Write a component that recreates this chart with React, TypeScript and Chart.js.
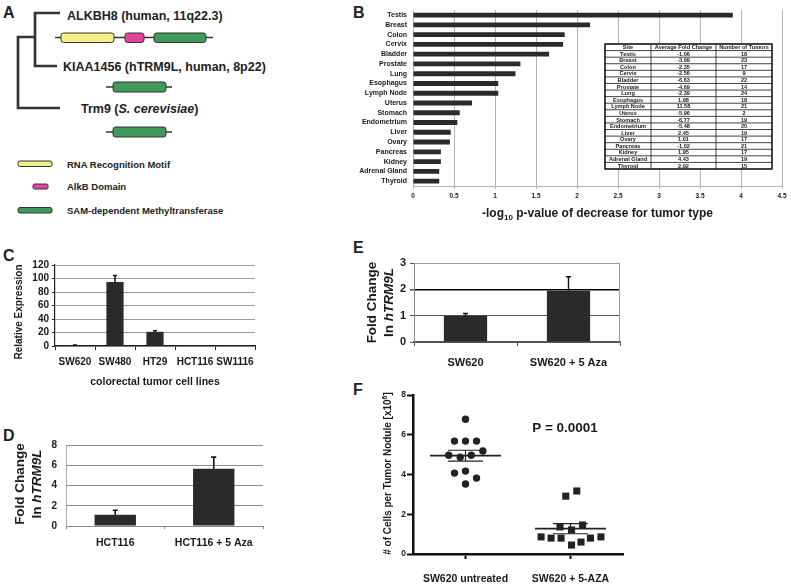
import React, { useEffect, useRef } from "react";
import { Chart, registerables } from "chart.js";

Chart.register(...registerables);

const FF = '"Liberation Sans", Arial, Helvetica, sans-serif';
const INK = "#1a1a1a";
const BAR = "#2a2a2a";

// ---------- Panel A ----------
const proteinNames = ["ALKBH8 (human, 11q22.3)", "KIAA1456 (hTRM9L, human, 8p22)"];
const legendItems = ["RNA Recognition Motif", "AlkB Domain", "SAM-dependent Methyltransferase"];
const domainColors = ["#f6ee86", "#e6449b", "#3f9a5b"];

// ---------- Panel B ----------
const tumorSites = ["Testis", "Breast", "Colon", "Cervix", "Bladder", "Prostate", "Lung", "Esophagus", "Lymph Node", "Uterus", "Stomach", "Endometrium", "Liver", "Ovary", "Pancreas", "Kidney", "Adrenal Gland", "Thyroid"];
const negLog10P = [3.9, 2.16, 1.85, 1.83, 1.66, 1.31, 1.25, 1.04, 1.04, 0.72, 0.57, 0.54, 0.46, 0.45, 0.34, 0.34, 0.32, 0.32];
const tableHeader = ["Site", "Average Fold Change", "Number of Tumors"];
const avgFoldChange = ["-1.06", "-3.99", "-2.35", "-2.56", "-6.63", "-4.69", "-2.39", "1.98", "11.58", "-5.96", "-6.77", "-5.48", "2.45", "1.01", "-1.02", "1.95", "4.43", "2.92"];
const numTumors = ["18", "23", "17", "9", "22", "14", "24", "18", "21", "2", "19", "20", "19", "17", "21", "17", "19", "15"];
const bMin = 0, bMax = 4.5, bStep = 0.5;

// ---------- Panel C ----------
const cCellLines = ["SW620", "SW480", "HT29", "HCT116", "SW1116"];
const cRelExpr = [1.2, 95, 21, 0.1, 0.1];
const cRelExprErr = [0.4, 9.5, 1.5, 0, 0];
const cMax = 120, cStep = 20;

// ---------- Panel D ----------
const dGroups = ["HCT116", "HCT116 + 5 Aza"];
const dFold = [1.1, 5.65];
const dFoldErr = [0.45, 1.15];
const dMax = 8, dStep = 2;

// ---------- Panel E ----------
const eGroups = ["SW620", "SW620 + 5 Aza"];
const eFold = [1.0, 1.95];
const eFoldErr = [0.08, 0.53];
const eMax = 3, eStep = 1;

// ---------- Panel F ----------
const fGroups = ["SW620 untreated", "SW620 + 5-AZA"];
const fGroupX = [1, 3];
const fUntreatedX = [1.0, 0.79, 1.0, 1.21, 1.33, 0.68, 0.9, 1.11, 0.79, 1.0, 1.21, 1.0];
const fUntreatedY = [6.78, 5.68, 5.68, 5.68, 5.18, 4.97, 4.87, 4.97, 4.07, 4.17, 3.82, 3.52];
const fAzaX = [2.91, 3.12, 2.8, 3.02, 3.23, 2.44, 2.63, 2.82, 3.02, 3.2, 3.38, 3.58];
const fAzaY = [2.91, 3.17, 1.36, 1.21, 1.46, 0.86, 0.8, 0.8, 0.45, 0.6, 0.8, 0.86];
const fPValue = "P = 0.0001";
const fMax = 8, fStep = 2;

// ---------- helpers ----------
type Run = { t: string; size: number; italic?: boolean; dy?: number };

function drawRuns(ctx: CanvasRenderingContext2D, runs: Run[], x: number, y: number, align: "left" | "center", rot = 0) {
  ctx.save();
  ctx.translate(x, y);
  if (rot) ctx.rotate(rot);
  ctx.fillStyle = INK;
  ctx.textBaseline = "alphabetic";
  ctx.textAlign = "left";
  const fnt = (r: Run) => `${r.italic ? "italic " : ""}bold ${r.size}px ${FF}`;
  let total = 0;
  for (const r of runs) {
    ctx.font = fnt(r);
    total += ctx.measureText(r.t).width;
  }
  let cx = align === "center" ? -total / 2 : 0;
  for (const r of runs) {
    ctx.font = fnt(r);
    ctx.fillText(r.t, cx, r.dy || 0);
    cx += ctx.measureText(r.t).width;
  }
  ctx.restore();
}

const f = (size: number) => ({ family: FF, size, weight: "bold" as const });
const plainNum = (v: any) => `${Number(v)}`;

function errorBars(errs: number[], capW: number, lw: number) {
  return {
    id: "errBars",
    afterDatasetsDraw(chart: any) {
      const meta = chart.getDatasetMeta(0);
      const ys = chart.scales.y;
      const ctx = chart.ctx as CanvasRenderingContext2D;
      const vals = chart.data.datasets[0].data as number[];
      ctx.save();
      ctx.strokeStyle = "#111";
      ctx.lineWidth = lw;
      meta.data.forEach((bar: any, i: number) => {
        const e = errs[i];
        if (!e) return;
        const yb = ys.getPixelForValue(vals[i]);
        const yt = ys.getPixelForValue(vals[i] + e);
        ctx.beginPath();
        ctx.moveTo(bar.x, yb);
        ctx.lineTo(bar.x, yt);
        ctx.moveTo(bar.x - capW / 2, yt);
        ctx.lineTo(bar.x + capW / 2, yt);
        ctx.stroke();
      });
      ctx.restore();
    },
  };
}

const mean = (a: number[]) => a.reduce((s, v) => s + v, 0) / a.length;
const sem = (a: number[]) => {
  const m = mean(a);
  return Math.sqrt(a.reduce((s, v) => s + (v - m) ** 2, 0) / (a.length - 1)) / Math.sqrt(a.length);
};

const baseOpts = {
  responsive: false,
  animation: false as const,
  plugins: { legend: { display: false }, tooltip: { enabled: false } },
};

// ---------- configs ----------
function configB(): any {
  return {
    type: "bar",
    data: {
      labels: tumorSites,
      datasets: [{ data: negLog10P, backgroundColor: BAR, barPercentage: 0.5, categoryPercentage: 1 }],
    },
    options: {
      ...baseOpts,
      indexAxis: "y",
      layout: { padding: { top: 10, right: 9, left: 0, bottom: 0 } },
      scales: {
        x: {
          type: "linear",
          min: bMin,
          max: bMax,
          ticks: { stepSize: bStep, font: f(6.5), color: INK, padding: 3, maxRotation: 0, autoSkip: false, callback: plainNum },
          grid: { color: "#b4b4b4", lineWidth: 1, tickLength: 3, drawTicks: true },
          border: { color: "#b4b4b4" },
          afterFit: (s: any) => { s.height = 44; },
        },
        y: {
          ticks: { font: f(7), color: INK, padding: 6, autoSkip: false },
          grid: { display: false, drawTicks: false },
          border: { display: false },
          afterFit: (s: any) => { s.width = 83; },
        },
      },
    },
    plugins: [
      {
        id: "bDeco",
        afterDraw(chart: any) {
          const ctx = chart.ctx as CanvasRenderingContext2D;
          const ca = chart.chartArea;
          drawRuns(ctx, [
            { t: "-log", size: 12 },
            { t: "10", size: 8, dy: 3 },
            { t: " p-value of decrease for tumor type", size: 12 },
          ], (ca.left + ca.right) / 2, ca.bottom + 31, "center");
          // table
          const cols = [275, 321, 386, 442];
          const top = 44;
          const rowH = (169 - 44) / (tumorSites.length + 1);
          const bottom = top + rowH * (tumorSites.length + 1);
          ctx.save();
          ctx.fillStyle = "#fff";
          ctx.fillRect(cols[0], top, cols[3] - cols[0], bottom - top);
          ctx.strokeStyle = "#111";
          ctx.lineWidth = 0.8;
          ctx.beginPath();
          for (let r = 0; r <= tumorSites.length + 1; r++) {
            const y = top + r * rowH;
            ctx.moveTo(cols[0], y);
            ctx.lineTo(cols[3], y);
          }
          for (const c of cols) {
            ctx.moveTo(c, top);
            ctx.lineTo(c, bottom);
          }
          ctx.stroke();
          ctx.lineWidth = 1.3;
          ctx.strokeRect(cols[0], top, cols[3] - cols[0], bottom - top);
          ctx.fillStyle = INK;
          ctx.textAlign = "center";
          ctx.textBaseline = "middle";
          ctx.font = `bold 5.6px ${FF}`;
          const rows = [tableHeader, ...tumorSites.map((s, i) => [s, avgFoldChange[i], numTumors[i]])];
          rows.forEach((row, r) => {
            const y = top + (r + 0.5) * rowH + 0.3;
            row.forEach((txt, c) => {
              ctx.fillText(txt, (cols[c] + cols[c + 1]) / 2, y);
            });
          });
          ctx.restore();
        },
      },
    ],
  };
}

function configC(): any {
  return {
    type: "bar",
    data: {
      labels: cCellLines,
      datasets: [{ data: cRelExpr, backgroundColor: BAR, barPercentage: 0.43, categoryPercentage: 1 }],
    },
    options: {
      ...baseOpts,
      layout: { padding: { top: 15, right: 10, left: 0, bottom: 0 } },
      scales: {
        x: {
          ticks: { font: f(10), color: INK, padding: 6, autoSkip: false, maxRotation: 0 },
          grid: { display: true, drawOnChartArea: false, tickLength: 4, tickColor: "#222", offset: true },
          border: { color: "#222", width: 1.2 },
          afterFit: (s: any) => { s.height = 44; },
        },
        y: {
          min: 0,
          max: cMax,
          ticks: { stepSize: cStep, font: f(10), color: INK, padding: 3, autoSkip: false, callback: plainNum },
          grid: { color: "#9a9a9a", tickLength: 3, tickColor: "#222" },
          border: { color: "#222", width: 1.2 },
          afterFit: (s: any) => { s.width = 55; },
        },
      },
    },
    plugins: [
      errorBars(cRelExprErr, 4, 1.5),
      {
        id: "cDeco",
        afterDraw(chart: any) {
          const ctx = chart.ctx as CanvasRenderingContext2D;
          const ca = chart.chartArea;
          drawRuns(ctx, [{ t: "Relative Expression", size: 10 }], 22, 62, "center", -Math.PI / 2);
          drawRuns(ctx, [{ t: "colorectal tumor cell lines", size: 10.5 }], (ca.left + ca.right) / 2, 134.7, "center");
        },
      },
    ],
  };
}

function foldTitle(ctx: CanvasRenderingContext2D, x1: number, x2: number, cy: number) {
  drawRuns(ctx, [{ t: "Fold Change", size: 13.5 }], x1, cy, "center", -Math.PI / 2);
  drawRuns(ctx, [{ t: "In ", size: 13.5 }, { t: "hTRM9L", size: 13.5, italic: true }], x2, cy, "center", -Math.PI / 2);
}

function configD(): any {
  return {
    type: "bar",
    data: {
      labels: dGroups,
      datasets: [{ data: dFold, backgroundColor: BAR, barPercentage: 0.42, categoryPercentage: 1 }],
    },
    options: {
      ...baseOpts,
      layout: { padding: { top: 12, right: 10, left: 0, bottom: 0 } },
      scales: {
        x: {
          ticks: { font: f(10.5), color: INK, padding: 8, autoSkip: false, maxRotation: 0 },
          grid: { display: true, drawOnChartArea: false, tickLength: 3, tickColor: "#888", offset: true },
          border: { color: "#888", width: 1 },
          afterFit: (s: any) => { s.height = 59; },
        },
        y: {
          min: 0,
          max: dMax,
          ticks: { stepSize: dStep, font: f(10), color: INK, padding: 9, autoSkip: false, callback: plainNum },
          grid: { color: "#8c8c8c", drawTicks: false },
          border: { color: "#aaa", width: 1 },
          afterFit: (s: any) => { s.width = 66; },
        },
      },
    },
    plugins: [
      errorBars(dFoldErr, 5, 1.6),
      {
        id: "dDeco",
        afterDraw(chart: any) {
          foldTitle(chart.ctx, 24, 41, 54);
        },
      },
    ],
  };
}

function configE(): any {
  return {
    type: "bar",
    data: {
      labels: eGroups,
      datasets: [{ data: eFold, backgroundColor: BAR, barPercentage: 0.42, categoryPercentage: 1 }],
    },
    options: {
      ...baseOpts,
      layout: { padding: { top: 23, right: 10, left: 0, bottom: 0 } },
      scales: {
        x: {
          ticks: { font: f(11), color: INK, padding: 10, autoSkip: false, maxRotation: 0 },
          grid: { display: true, drawOnChartArea: false, tickLength: 4, tickColor: "#555", offset: true },
          border: { color: "#555", width: 1.2 },
          afterFit: (s: any) => { s.height = 38; },
        },
        y: {
          min: 0,
          max: eMax,
          ticks: { stepSize: eStep, font: f(11), color: INK, padding: 4, autoSkip: false, callback: plainNum },
          grid: {
            color: (c: any) => (c.tick && c.tick.value === 2 ? "#000" : c.tick && c.tick.value === eMax ? "#999" : "#555"),
            lineWidth: (c: any) => (c.tick && c.tick.value === 2 ? 1.6 : 1),
            tickLength: 4,
            tickColor: "#555",
          },
          border: { color: "#888", width: 1 },
          afterFit: (s: any) => { s.width = 84; },
        },
      },
    },
    plugins: [
      errorBars(eFoldErr, 5, 1.4),
      {
        id: "eDeco",
        afterDraw(chart: any) {
          const ctx = chart.ctx as CanvasRenderingContext2D;
          const ca = chart.chartArea;
          ctx.save();
          ctx.strokeStyle = "#999";
          ctx.lineWidth = 1;
          ctx.beginPath();
          ctx.moveTo(ca.right - 0.5, ca.top);
          ctx.lineTo(ca.right - 0.5, ca.bottom);
          ctx.stroke();
          ctx.restore();
          foldTitle(ctx, 46.3, 63.3, 62.5);
        },
      },
    ],
  };
}

function configF(): any {
  const groups = [
    { x: fUntreatedX, y: fUntreatedY },
    { x: fAzaX, y: fAzaY },
  ];
  const lineDs = (pts: { x: number; y: number }[], w: number) => ({
    type: "line",
    data: pts,
    borderColor: "#222",
    borderWidth: w,
    pointRadius: 0,
    fill: false,
    order: 2,
  });
  const summary: any[] = [];
  groups.forEach((g, i) => {
    const gx = fGroupX[i];
    const m = mean(g.y);
    const s = sem(g.y);
    summary.push(lineDs([{ x: gx - 0.676, y: m }, { x: gx + 0.676, y: m }], 1.8));
    summary.push(lineDs([{ x: gx - 0.333, y: m + s }, { x: gx + 0.333, y: m + s }], 1.2));
    summary.push(lineDs([{ x: gx - 0.333, y: m - s }, { x: gx + 0.333, y: m - s }], 1.2));
    summary.push(lineDs([{ x: gx, y: m - s }, { x: gx, y: m + s }], 1.2));
  });
  return {
    type: "scatter",
    data: {
      datasets: [
        {
          data: fUntreatedX.map((x, i) => ({ x, y: fUntreatedY[i] })),
          pointStyle: "circle",
          radius: 3.7,
          backgroundColor: "#222",
          borderWidth: 0,
          order: 1,
        },
        {
          data: fAzaX.map((x, i) => ({ x, y: fAzaY[i] })),
          pointStyle: "rect",
          radius: 5,
          backgroundColor: "#222",
          borderWidth: 0,
          order: 1,
        },
        ...summary,
      ],
    },
    options: {
      ...baseOpts,
      layout: { padding: { top: 15, right: 7, left: 0, bottom: 0 } },
      scales: {
        x: {
          type: "linear",
          min: 0,
          max: 4,
          afterBuildTicks: (s: any) => { s.ticks = fGroupX.map((v) => ({ value: v })); },
          ticks: { font: f(10.5), color: INK, padding: 14, autoSkip: false, maxRotation: 0, callback: (_v: any, i: number) => fGroups[i] },
          grid: { drawOnChartArea: false, tickLength: 5, tickColor: "#111", tickWidth: 2 },
          border: { color: "#111", width: 2.5 },
          afterFit: (s: any) => { s.height = 31; },
        },
        y: {
          min: 0,
          max: fMax,
          ticks: { stepSize: fStep, font: f(8.5), color: INK, padding: 1, autoSkip: false, callback: plainNum },
          grid: { drawOnChartArea: false, tickLength: 6, tickColor: "#111", tickWidth: 2 },
          border: { color: "#111", width: 2.5 },
          afterFit: (s: any) => { s.width = 83; },
        },
      },
    },
    plugins: [
      {
        id: "fDeco",
        afterDraw(chart: any) {
          const ctx = chart.ctx as CanvasRenderingContext2D;
          drawRuns(ctx, [{ t: fPValue, size: 13.5 }], 235, 52, "center");
          drawRuns(ctx, [
            { t: "# of Cells per Tumor Nodule [x10", size: 10 },
            { t: "6", size: 7, dy: -4 },
            { t: "]", size: 10 },
          ], 61, 93.5, "center", -Math.PI / 2);
        },
      },
    ],
  };
}

// ---------- Panel A (schematic) ----------
function PanelA() {
  const stroke = "#333";
  const txt = { fontFamily: FF, fontWeight: 700, fill: "#222" } as any;
  return (
    <svg width={330} height={230} style={{ position: "absolute", left: 0, top: 0 }}>
      <g fill="none" stroke={stroke} strokeWidth={2.7}>
        <path d="M60,13 H35 V66 H57" />
        <path d="M35,37 H18 V108 H60" />
      </g>
      <text x={67} y={19.5} fontSize={12.5} {...txt}>{proteinNames[0]}</text>
      <text x={63} y={70.5} fontSize={12.5} {...txt}>{proteinNames[1]}</text>
      <text x={81} y={112.5} fontSize={12.5} {...txt}>
        Trm9 (<tspan fontStyle="italic">S. cerevisiae</tspan>)
      </text>
      <g stroke={stroke} strokeWidth={1.5}>
        <line x1={55} y1={37.5} x2={213} y2={37.5} />
        <line x1={106} y1={87} x2={172} y2={87} />
        <line x1={106} y1={132} x2={172} y2={132} />
      </g>
      <g stroke={stroke} strokeWidth={1}>
        <rect x={61} y={33} width={53} height={9.5} rx={2.5} fill={domainColors[0]} />
        <rect x={125} y={33} width={19} height={9.5} rx={2.5} fill={domainColors[1]} />
        <rect x={154} y={33} width={52} height={9.5} rx={2.5} fill={domainColors[2]} />
        <rect x={113} y={82} width={53} height={10} rx={2.5} fill={domainColors[2]} />
        <rect x={113} y={127} width={53} height={10} rx={2.5} fill={domainColors[2]} />
        <rect x={18} y={161} width={34} height={5.5} rx={2} fill={domainColors[0]} />
        <rect x={33} y={184} width={15} height={5} rx={1.5} fill={domainColors[1]} />
        <rect x={18} y={207.5} width={34} height={5.5} rx={2} fill={domainColors[2]} />
      </g>
      <text x={67} y={167.5} fontSize={9.5} {...txt}>{legendItems[0]}</text>
      <text x={67} y={190} fontSize={9.5} {...txt}>{legendItems[1]}</text>
      <text x={67} y={213.5} fontSize={9.5} {...txt}>{legendItems[2]}</text>
    </svg>
  );
}

const panelLetters: [string, number, number][] = [
  ["A", 3, 5],
  ["B", 353, 5],
  ["C", 3, 248],
  ["D", 3, 428],
  ["E", 353, 240],
  ["F", 353, 382],
];

export default function App() {
  const bRef = useRef<HTMLCanvasElement>(null);
  const cRef = useRef<HTMLCanvasElement>(null);
  const dRef = useRef<HTMLCanvasElement>(null);
  const eRef = useRef<HTMLCanvasElement>(null);
  const fRef = useRef<HTMLCanvasElement>(null);

  useEffect(() => {
    const charts: Chart[] = [];
    charts.push(new Chart(bRef.current!, configB()));
    charts.push(new Chart(cRef.current!, configC()));
    charts.push(new Chart(dRef.current!, configD()));
    charts.push(new Chart(eRef.current!, configE()));
    charts.push(new Chart(fRef.current!, configF()));
    return () => charts.forEach((c) => c.destroy());
  }, []);

  const cv = (left: number, top: number, w: number, h: number) => ({
    width: w,
    height: h,
    style: { position: "absolute" as const, left, top, width: w, height: h },
  });

  return (
    <div style={{ position: "absolute", left: 0, top: 0, width: 791, height: 585, background: "#fff", overflow: "hidden", fontFamily: FF }}>
      <PanelA />
      {panelLetters.map(([t, x, y]) => (
        <div key={t} style={{ position: "absolute", left: x, top: y, fontSize: 16, lineHeight: "16px", fontWeight: 700, color: "#222" }}>{t}</div>
      ))}
      <canvas ref={bRef} {...cv(330, 0, 461, 230)} />
      <canvas ref={cRef} {...cv(0, 250, 265, 140)} />
      <canvas ref={dRef} {...cv(0, 430, 273, 155)} />
      <canvas ref={eRef} {...cv(330, 240, 300, 140)} />
      <canvas ref={fRef} {...cv(330, 380, 300, 205)} />
    </div>
  );
}
